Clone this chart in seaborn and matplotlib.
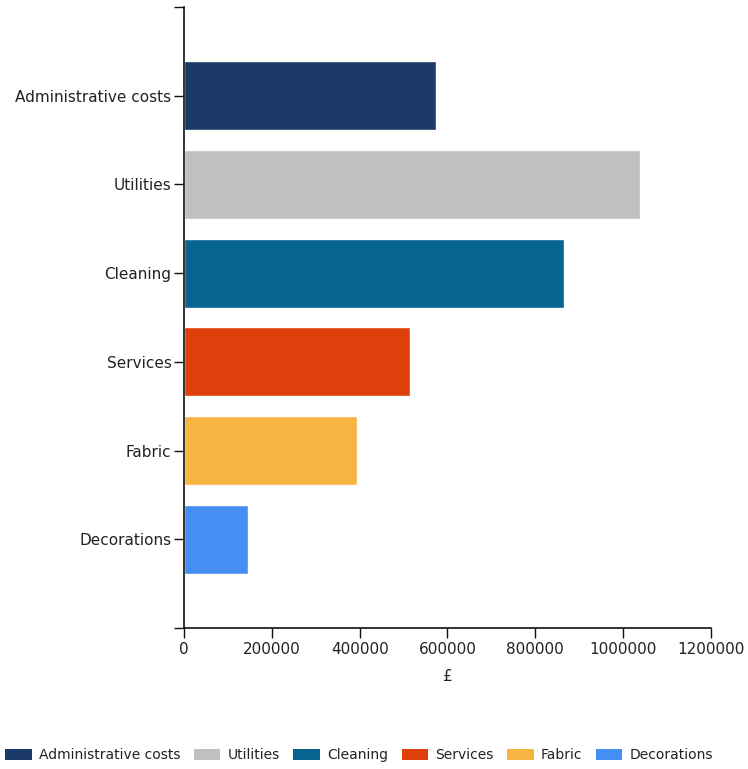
import matplotlib
matplotlib.use("Agg")
import matplotlib.pyplot as plt
import seaborn as sns
import pandas as pd
from matplotlib.patches import Patch

categories = ["Administrative costs", "Utilities", "Cleaning", "Services", "Fabric", "Decorations"]
values = [573000, 1039000, 866000, 514000, 393000, 145000]
colors = ["#1c3a68", "#c0c0c0", "#07638f", "#de400b", "#f8b443", "#458ff3"]
xticks = [0, 200000, 400000, 600000, 800000, 1000000, 1200000]

sns.set_style("white")
plt.rcParams["font.family"] = ["DejaVu Sans"]

df = pd.DataFrame({"category": categories, "value": values})

fig = plt.figure(figsize=(7.48, 7.69), dpi=100)
ax = fig.add_axes([0.246, 0.1834, 0.7045, 0.8075])

sns.barplot(data=df, x="value", y="category", hue="category", order=categories,
            hue_order=categories, palette=colors, width=0.78, legend=False,
            saturation=1, ax=ax)

ax.set_xlim(0, 1200000)
ax.set_ylim(6, -1)
ax.set_yticks(list(range(-1, 7)))
ax.set_yticklabels([""] + categories + [""])
ax.set_xticks(xticks)
ax.set_xticklabels([str(t) for t in xticks])
ax.set_ylabel("")
ax.set_xlabel("£", fontsize=11, color="#222222", labelpad=9)

for s in ["top", "right"]:
    ax.spines[s].set_visible(False)
for s in ["left", "bottom"]:
    ax.spines[s].set_color("#111111")
    ax.spines[s].set_linewidth(1.2)

ax.tick_params(axis="both", which="both", direction="out", length=7, width=1,
               color="#111111", labelsize=11, labelcolor="#222222", pad=3,
               left=True, bottom=True)
ax.tick_params(axis="y", pad=2)

handles = [Patch(facecolor=c, edgecolor="none", label=l) for c, l in zip(colors, categories)]
fig.legend(handles=handles, loc="center", bbox_to_anchor=(0.48, 0.018), ncol=6,
           frameon=False, fontsize=10, handlelength=1.9, handleheight=0.9,
           handletextpad=0.5, columnspacing=1.0, labelcolor="#222222")

fig.savefig("out.png", dpi=100)
